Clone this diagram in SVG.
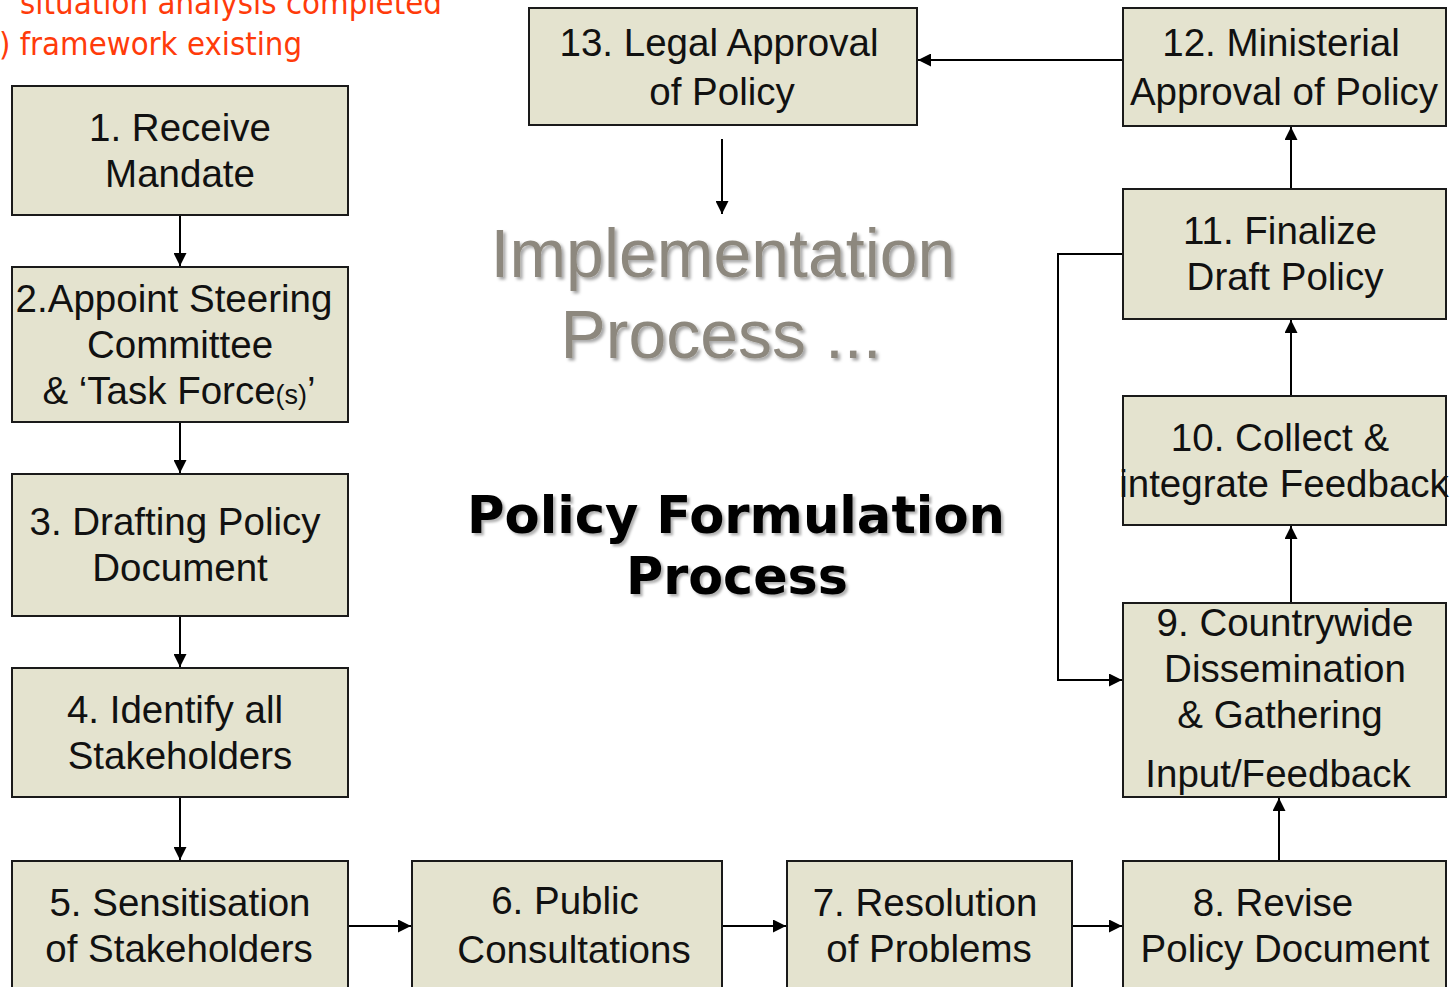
<svg xmlns="http://www.w3.org/2000/svg" width="1450" height="987" viewBox="0 0 1450 987">
<style>
.box{fill:#E4E3CF;stroke:#1a1a1a;stroke-width:2}
.t{font-family:"Liberation Sans",Arial,sans-serif;font-size:38.5px;fill:#111;text-anchor:middle}
.c{stroke:#000;stroke-width:2;fill:none;marker-end:url(#ah)}
.red{font-family:"DejaVu Sans",Verdana,sans-serif;font-size:32px;fill:#FF3B0A}
</style>
<defs>
<marker id="ah" viewBox="0 0 10 10" refX="10" refY="5" markerWidth="6.5" markerHeight="6.5" orient="auto" markerUnits="strokeWidth">
<path d="M0,0 L10,5 L0,10 z" fill="#000"/>
</marker>
<filter id="sh1" x="-10%" y="-20%" width="120%" height="150%">
<feDropShadow dx="2.5" dy="2.5" stdDeviation="1.5" flood-color="#000" flood-opacity="0.35"/>
</filter>
<filter id="sh2" x="-10%" y="-20%" width="120%" height="150%">
<feDropShadow dx="2.5" dy="2.5" stdDeviation="1.2" flood-color="#000" flood-opacity="0.3"/>
</filter>
</defs>
<rect width="1450" height="987" fill="#fff"/>

<g id="note">
<text class="red" x="20" y="14" textLength="422" lengthAdjust="spacingAndGlyphs">situation analysis completed</text>
<text class="red" x="-1" y="55" textLength="303" lengthAdjust="spacingAndGlyphs">) framework existing</text>
</g>

<g id="implementation" filter="url(#sh1)">
<text x="723" y="277" font-family="Liberation Sans, Arial, sans-serif" font-size="68" fill="#8D887E" text-anchor="middle">Implementation</text>
<text x="721" y="358" font-family="Liberation Sans, Arial, sans-serif" font-size="68" fill="#8D887E" text-anchor="middle">Process ...</text>
</g>

<g id="title" filter="url(#sh2)">
<text x="736" y="533" font-family="DejaVu Sans, Verdana, sans-serif" font-weight="bold" font-size="52" fill="#000" text-anchor="middle" textLength="538" lengthAdjust="spacingAndGlyphs">Policy Formulation</text>
<text x="737" y="594" font-family="DejaVu Sans, Verdana, sans-serif" font-weight="bold" font-size="52" fill="#000" text-anchor="middle" textLength="222" lengthAdjust="spacingAndGlyphs">Process</text>
</g>

<g id="connectors">
<line class="c" x1="180" y1="215" x2="180" y2="266"/>
<line class="c" x1="180" y1="422" x2="180" y2="473"/>
<line class="c" x1="180" y1="616" x2="180" y2="667"/>
<line class="c" x1="180" y1="797" x2="180" y2="860"/>
<line class="c" x1="348" y1="926" x2="411" y2="926"/>
<line class="c" x1="722" y1="926" x2="786" y2="926"/>
<line class="c" x1="1072" y1="926" x2="1122" y2="926"/>
<line class="c" x1="1279" y1="861" x2="1279" y2="798"/>
<line class="c" x1="1291" y1="603" x2="1291" y2="526"/>
<line class="c" x1="1291" y1="396" x2="1291" y2="320"/>
<line class="c" x1="1291" y1="189" x2="1291" y2="127"/>
<line class="c" x1="1123" y1="60" x2="918" y2="60"/>
<line class="c" x1="722" y1="139" x2="722" y2="214"/>
<polyline class="c" points="1123,254 1058,254 1058,680 1122,680"/>
</g>

<g id="n1"><rect class="box" x="12" y="86" width="336" height="129"/>
<text class="t" x="180" y="141">1. Receive</text><text class="t" x="180" y="187">Mandate</text></g>

<g id="n2"><rect class="box" x="12" y="267" width="336" height="155"/>
<text class="t" x="174" y="312">2.Appoint Steering</text>
<text class="t" x="180" y="358">Committee</text>
<text class="t" x="179" y="404">&amp; ‘Task Force<tspan font-size="27">(s)</tspan>’</text></g>

<g id="n3"><rect class="box" x="12" y="474" width="336" height="142"/>
<text class="t" x="175" y="535">3. Drafting Policy</text><text class="t" x="180" y="581">Document</text></g>

<g id="n4"><rect class="box" x="12" y="668" width="336" height="129"/>
<text class="t" x="175" y="723">4. Identify all</text><text class="t" x="180" y="769">Stakeholders</text></g>

<g id="n5"><rect class="box" x="12" y="861" width="336" height="140"/>
<text class="t" x="180" y="916">5. Sensitisation</text><text class="t" x="179" y="962">of Stakeholders</text></g>

<g id="n6"><rect class="box" x="412" y="861" width="310" height="140"/>
<text class="t" x="565" y="914">6. Public</text><text class="t" x="574" y="963">Consultations</text></g>

<g id="n7"><rect class="box" x="787" y="861" width="285" height="140"/>
<text class="t" x="925" y="916">7. Resolution</text><text class="t" x="929" y="962">of Problems</text></g>

<g id="n8"><rect class="box" x="1123" y="861" width="323" height="140"/>
<text class="t" x="1273" y="916">8. Revise</text><text class="t" x="1285" y="962">Policy Document</text></g>

<g id="n9"><rect class="box" x="1123" y="603" width="323" height="194"/>
<text class="t" x="1285" y="636">9. Countrywide</text>
<text class="t" x="1285" y="682">Dissemination</text>
<text class="t" x="1280" y="728">&amp; Gathering</text>
<text class="t" x="1278" y="787">Input/Feedback</text></g>

<g id="n10"><rect class="box" x="1123" y="396" width="323" height="129"/>
<text class="t" x="1280" y="451">10. Collect &amp;</text><text class="t" x="1284" y="497">integrate Feedback</text></g>

<g id="n11"><rect class="box" x="1123" y="189" width="323" height="130"/>
<text class="t" x="1280" y="244">11. Finalize</text><text class="t" x="1285" y="290">Draft Policy</text></g>

<g id="n12"><rect class="box" x="1123" y="8" width="323" height="118"/>
<text class="t" x="1281" y="56">12. Ministerial</text><text class="t" x="1284" y="105">Approval of Policy</text></g>

<g id="n13"><rect class="box" x="529" y="8" width="388" height="117"/>
<text class="t" x="719" y="56">13. Legal Approval</text><text class="t" x="722" y="105">of Policy</text></g>
</svg>
